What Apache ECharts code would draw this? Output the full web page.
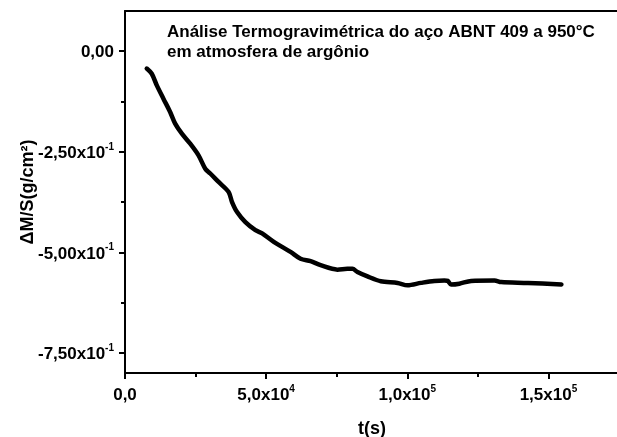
<!DOCTYPE html>
<html>
<head>
<meta charset="utf-8">
<script src="https://cdn.jsdelivr.net/npm/echarts@6/dist/echarts.min.js"></script>
<style>
  html, body { margin: 0; padding: 0; background: #fff; }
  #chart { width: 617px; height: 437px; }
</style>
</head>
<body>
<div id="chart"></div>
<script>
// tempo (s) e ganho de massa por área (g/cm²)
const tempo = [7710, 9490, 11270, 13610, 15990, 17770, 20150, 23100, 26050, 28430,
  30210, 33160, 36710, 37920, 39700, 42650, 46200, 48580, 52710, 58640,
  62200, 65750, 69300, 75240, 78790, 80570, 82350, 85900, 90630, 96560,
  100100, 104840, 109570, 113130, 114330, 115500, 118460, 122610, 130890, 133270,
  142760, 154600]
const massa = [-0.043, -0.056, -0.085, -0.118, -0.151, -0.180, -0.205, -0.230, -0.259, -0.292,
  -0.304, -0.325, -0.350, -0.375, -0.400, -0.425, -0.445, -0.453, -0.474, -0.499,
  -0.516, -0.522, -0.532, -0.543, -0.541, -0.541, -0.549, -0.560, -0.572, -0.576,
  -0.582, -0.576, -0.571, -0.570, -0.571, -0.580, -0.578, -0.571, -0.570, -0.574,
  -0.576, -0.580]

const xTicks = [0, 50000, 100000, 150000]
const xMinor = [25000, 75000, 125000]
const yTicks = [-0.75, -0.5, -0.25, 0]
const yMinor = [-0.625, -0.375, -0.125]

const xLabels = { 0: '{b|0,0}', 50000: '{b|5,0x10}{s|4}', 100000: '{b|1,0x10}{s|5}', 150000: '{b|1,5x10}{s|5}' }
const yLabels = { '0': '{b|0,00}', '-0.25': '{b|-2,50x10}{s|-1}', '-0.5': '{b|-5,00x10}{s|-1}', '-0.75': '{b|-7,50x10}{s|-1}' }

const fonte = 'Liberation Sans, Arial, sans-serif'
const rich = {
  b: { fontFamily: fonte, fontWeight: 'bold', fontSize: 17, color: '#000', lineHeight: 20, verticalAlign: 'bottom' },
  s: { fontFamily: fonte, fontWeight: 'bold', fontSize: 10, color: '#000', lineHeight: 20, verticalAlign: 'top' }
}

const myChart = echarts.init(document.getElementById('chart'))

const xBase = { type: 'value', min: 0, max: 175000 }
const yBase = { type: 'value', min: -0.8, max: 0.1 }
const linha = { onZero: false, lineStyle: { color: '#000', width: 2 } }

const options = {
  animation: false,
  grid: { left: 125, top: 11, right: -2, bottom: 64, outerBoundsMode: 'none', containLabel: false },
  title: {
    text: 'Análise Termogravimétrica do aço ABNT 409 a 950°C\nem atmosfera de argônio',
    left: 162, top: 17,
    textStyle: { fontFamily: fonte, fontWeight: 'bold', fontSize: 17, lineHeight: 20, color: '#000' }
  },
  xAxis: [
    {
      ...xBase,
      name: 't(s)', nameLocation: 'middle', nameGap: 47,
      nameTextStyle: { fontFamily: fonte, fontWeight: 'bold', fontSize: 18, color: '#000' },
      splitLine: { show: false },
      axisLine: linha,
      axisTick: { customValues: xTicks, length: 6, lineStyle: { color: '#000', width: 2 } },
      axisLabel: { customValues: xTicks, margin: 11, formatter: v => xLabels[v] || '', rich: rich }
    },
    {
      ...xBase, position: 'bottom',
      splitLine: { show: false }, axisLine: { show: false, onZero: false }, axisLabel: { show: false },
      axisTick: { customValues: xMinor, length: 4, lineStyle: { color: '#000', width: 2 } }
    },
    {
      ...xBase, position: 'top',
      splitLine: { show: false }, axisTick: { show: false }, axisLabel: { show: false },
      axisLine: linha
    }
  ],
  yAxis: [
    {
      ...yBase,
      name: 'ΔM/S(g/cm²)', nameLocation: 'middle', nameGap: 88, nameMoveOverlap: false,
      nameTextStyle: { fontFamily: fonte, fontWeight: 'bold', fontSize: 18, color: '#000' },
      splitLine: { show: false },
      axisLine: linha,
      axisTick: { customValues: yTicks, length: 6, lineStyle: { color: '#000', width: 2 } },
      axisLabel: { customValues: yTicks, margin: 11, formatter: v => yLabels[String(v)] || '', rich: rich }
    },
    {
      ...yBase, position: 'left',
      splitLine: { show: false }, axisLine: { show: false, onZero: false }, axisLabel: { show: false },
      axisTick: { customValues: yMinor, length: 4, lineStyle: { color: '#000', width: 2 } }
    }
  ],
  series: [{
    type: 'line',
    data: tempo.map((t, i) => [t, massa[i]]),
    showSymbol: false,
    smooth: 0.3,
    lineStyle: { color: '#000', width: 4.5, cap: 'round', join: 'round' }
  }]
}

myChart.setOption(options)
window.addEventListener('resize', () => myChart.resize())
</script>
</body>
</html>
